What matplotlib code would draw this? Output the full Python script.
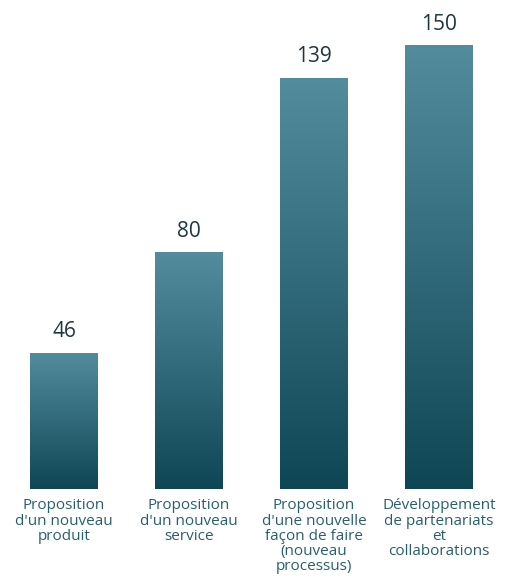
import numpy as np
import matplotlib.pyplot as plt
from matplotlib.colors import LinearSegmentedColormap

categories = ["Proposition\nd'un nouveau\nproduit",
              "Proposition\nd'un nouveau\nservice",
              "Proposition\nd'une nouvelle\nfaçon de faire\n(nouveau\nprocessus)",
              "Développement\nde partenariats\net\ncollaborations"]
values = [46, 80, 139, 150]

plt.rcParams['font.family'] = ['Open Sans', 'DejaVu Sans']

fig = plt.figure(figsize=(5.05, 5.79), dpi=100)
ax = fig.add_axes([0.003, 1 - 489 / 579, 0.99, 489 / 579])

x = np.arange(len(values))
bars = ax.bar(x, values, width=0.544, color='none')
ax.set_xlim(-0.5, len(values) - 0.5)
ax.set_ylim(0, 165.2)

# vertical gradient in each bar, light at top, dark at bottom
cmap = LinearSegmentedColormap.from_list('teal', ['#0f4656', '#538d9d'])
grad = np.linspace(0, 1, 256).reshape(-1, 1)
for b in bars:
    x0, y0, w, h = b.get_x(), b.get_y(), b.get_width(), b.get_height()
    im = ax.imshow(grad, cmap=cmap, origin='lower', aspect='auto',
                   extent=[x0, x0 + w, y0, y0 + h], zorder=2)
    im.set_clip_path(b)

for xi, v in zip(x, values):
    ax.text(xi, v + 3.5, str(v), ha='center', va='bottom',
            fontsize=15, color='#1e3640')

for xi, c in zip(x, categories):
    ax.text(xi, -3.2, c, ha='center', va='top', fontsize=11,
            color='#26606f', linespacing=1.02)

ax.axis('off')
fig.savefig('out.png', dpi=100)
